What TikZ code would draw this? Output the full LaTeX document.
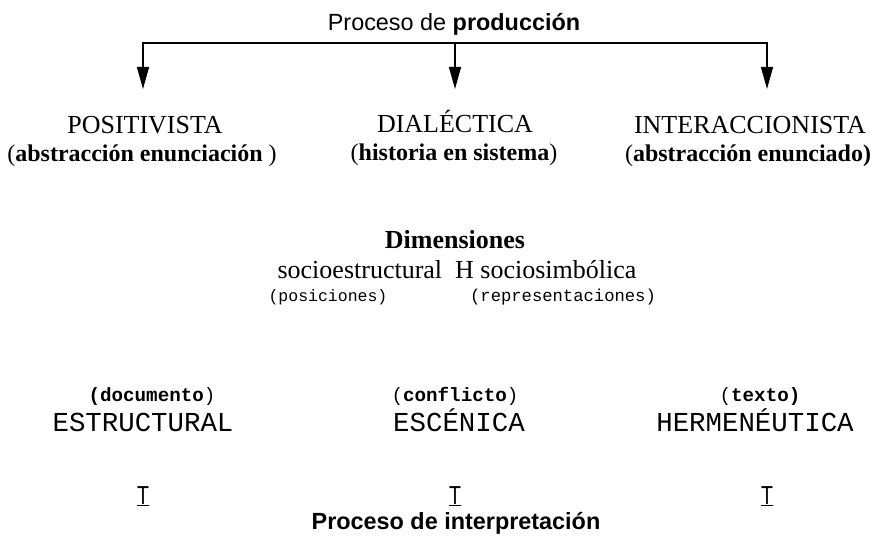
\documentclass[tikz,border=0pt]{standalone}
\usepackage{fontspec}
\setmainfont{Liberation Serif}
\newfontfamily\arial{Liberation Sans}
\newfontfamily\cour{Liberation Mono}
\usetikzlibrary{arrows.meta}
\tikzset{
  arr/.style={line width=1.3pt,-{Triangle[width=12pt,length=22pt]}},
  sanst/.style={font=\arial\fontsize{23.4}{27}\selectfont},
  serifA/.style={font=\fontsize{26}{30}\selectfont},
  serifB/.style={font=\fontsize{24}{28}\selectfont},
  dimst/.style={font=\fontsize{26}{30}\selectfont},
  monoS/.style={font=\cour\fontsize{16.5}{20}\selectfont},
  monoR/.style={font=\cour\fontsize{17.2}{20}\selectfont},
  monoB/.style={font=\cour\bfseries\fontsize{19.2}{23}\selectfont},
  monoL/.style={font=\cour\fontsize{27.4}{32}\selectfont},
  tst/.style={font=\arial\fontsize{26}{30}\selectfont, xscale=0.75},
  txt/.style={inner sep=0pt, anchor=base}
}
\begin{document}
\begin{tikzpicture}[x=1pt,y=-1pt]
\useasboundingbox (0,0) rectangle (893,537);
% title
\node[txt,sanst] (title) at (454,31) {Proceso de \textbf{producción}};
\coordinate (b) at (455,43);
\coordinate (a1) at (143,89);
\coordinate (a2) at (455,89);
\coordinate (a3) at (767,89);
\draw[arr] (b) -| (a1);
\draw[arr] (b) -- (a2);
\draw[arr] (b) -| (a3);
% positions
\node[txt,serifA] (pos) at (145,134) {POSITIVISTA};
\node[txt,serifB] (posb) at (142,162) {(\textbf{abstracción enunciación} )};
\node[txt,serifA] (dia) at (455,133) {DIALÉCTICA};
\node[txt,serifB] (diab) at (454,161) {(\textbf{historia en sistema})};
\node[txt,serifA] (int) at (750,134) {INTERACCIONISTA};
\node[txt,serifB] (intb) at (748,162) {(\textbf{abstracción enunciado)}};
% dimensions
\node[txt,dimst] (dim) at (455,248) {\textbf{Dimensiones}};
\node[txt,dimst] (soc) at (457,278) {socioestructural\ \ H sociosimbólica};
\node[txt,monoS] (posic) at (328,301) {(posiciones)};
\node[txt,monoR] (repr) at (563,301) {(representaciones)};
% interpretation
\node[txt,monoB] (doc) at (152,401) {(documento{\mdseries)}};
\node[txt,monoL] (estr) at (143,431) {ESTRUCTURAL};
\node[txt,monoB] (conf) at (455,401) {{\mdseries(}conflicto{\mdseries)}};
\node[txt,monoL] (esc) at (459,431) {ESCÉNICA};
\node[txt,monoB] (texto) at (760,401) {{\mdseries(}texto)};
\node[txt,monoL] (herm) at (755,431) {HERMENÉUTICA};
\node[txt,tst] (t1) at (143,504) {\underline{T}};
\node[txt,tst] (t2) at (455,504) {\underline{T}};
\node[txt,tst] (t3) at (767,504) {\underline{T}};
\node[txt,sanst] (interp) at (456,529) {\textbf{Proceso de interpretación}};
\end{tikzpicture}
\end{document}
